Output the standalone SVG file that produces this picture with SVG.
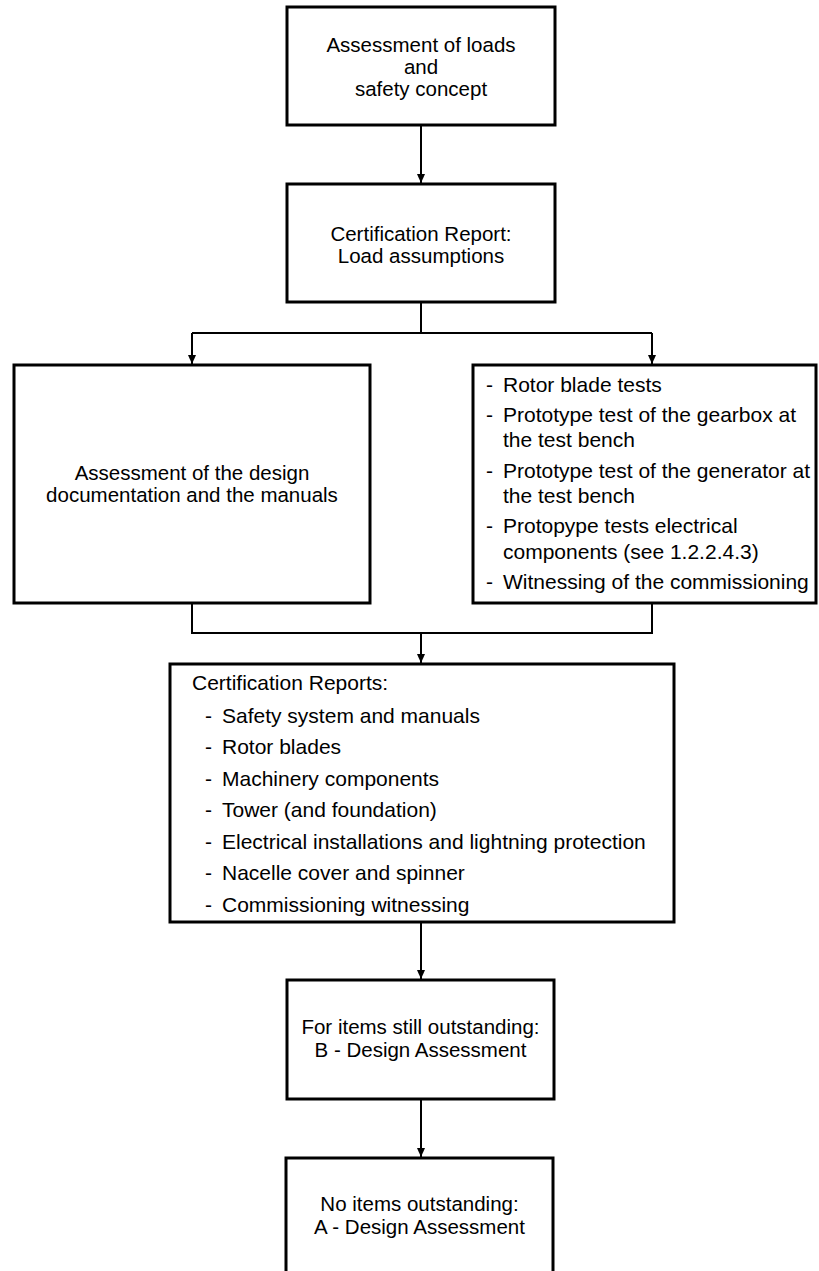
<svg xmlns="http://www.w3.org/2000/svg" width="819" height="1271" viewBox="0 0 819 1271">
  <style>
    .box { fill: #fff; stroke: #000; stroke-width: 3; }
    .wire { fill: none; stroke: #000; stroke-width: 2; }
    text { font-family: "Liberation Sans", Arial, sans-serif; font-size: 20.5px; fill: #000; }
    .c { text-anchor: middle; }
    .li { font-size: 21px; }
  </style>
  <defs>
    <marker id="arrow" markerUnits="userSpaceOnUse" markerWidth="10" markerHeight="10" refX="9" refY="4" orient="auto">
      <path d="M0,0 L9,4 L0,8 Z" fill="#000"/>
    </marker>
  </defs>

  <!-- connectors -->
  <g id="connectors">
    <path class="wire" d="M421,125 V183" marker-end="url(#arrow)"/>
    <path class="wire" d="M421,302 V333"/>
    <path class="wire" d="M192,333 H652"/>
    <path class="wire" d="M192,333 V364" marker-end="url(#arrow)"/>
    <path class="wire" d="M652,333 V364" marker-end="url(#arrow)"/>
    <path class="wire" d="M192,603 V633 H652 V603"/>
    <path class="wire" d="M421,633 V663" marker-end="url(#arrow)"/>
    <path class="wire" d="M421,922 V979" marker-end="url(#arrow)"/>
    <path class="wire" d="M421,1099 V1157" marker-end="url(#arrow)"/>
  </g>

  <!-- loads and safety concept -->
  <g id="node-loads">
    <rect class="box" x="287" y="7" width="268" height="118"/>
    <text class="c" x="421" y="52">Assessment of loads</text>
    <text class="c" x="421" y="74">and</text>
    <text class="c" x="421" y="96">safety concept</text>
  </g>

  <!-- load assumptions report -->
  <g id="node-load-report">
    <rect class="box" x="287" y="184" width="268" height="118"/>
    <text class="c" x="421" y="241">Certification Report:</text>
    <text class="c" x="421" y="263">Load assumptions</text>
  </g>

  <!-- design documentation -->
  <g id="node-design-doc">
    <rect class="box" x="14" y="365" width="356" height="238"/>
    <text class="c" x="192" y="480">Assessment of the design</text>
    <text class="c" x="192" y="502">documentation and the manuals</text>
  </g>

  <!-- tests -->
  <g id="node-tests" class="li">
    <rect class="box" x="473" y="365" width="343" height="238"/>
    <text class="li" x="486" y="392">-</text><text class="li" x="503" y="392">Rotor blade tests</text>
    <text class="li" x="486" y="422">-</text><text class="li" x="503" y="422">Prototype test of the gearbox at</text>
    <text class="li" x="503" y="447">the test bench</text>
    <text class="li" x="486" y="478">-</text><text class="li" x="503" y="478">Prototype test of the generator at</text>
    <text class="li" x="503" y="503">the test bench</text>
    <text class="li" x="486" y="533">-</text><text class="li" x="503" y="533">Protopype tests electrical</text>
    <text class="li" x="503" y="559">components (see 1.2.2.4.3)</text>
    <text class="li" x="486" y="589">-</text><text class="li" x="503" y="589">Witnessing of the commissioning</text>
  </g>

  <!-- certification reports -->
  <g id="node-reports">
    <rect class="box" x="170" y="664" width="504" height="258"/>
    <text class="li" x="192" y="690">Certification Reports:</text>
    <text class="li" x="205" y="723">-</text><text class="li" x="222" y="723">Safety system and manuals</text>
    <text class="li" x="205" y="754">-</text><text class="li" x="222" y="754">Rotor blades</text>
    <text class="li" x="205" y="786">-</text><text class="li" x="222" y="786">Machinery components</text>
    <text class="li" x="205" y="817">-</text><text class="li" x="222" y="817">Tower (and foundation)</text>
    <text class="li" x="205" y="849">-</text><text class="li" x="222" y="849">Electrical installations and lightning protection</text>
    <text class="li" x="205" y="880">-</text><text class="li" x="222" y="880">Nacelle cover and spinner</text>
    <text class="li" x="205" y="912">-</text><text class="li" x="222" y="912">Commissioning witnessing</text>
  </g>

  <!-- B design assessment -->
  <g id="node-b">
    <rect class="box" x="287" y="980" width="267" height="119"/>
    <text class="c" x="420.5" y="1034">For items still outstanding:</text>
    <text class="c" x="420.5" y="1057">B - Design Assessment</text>
  </g>

  <!-- A design assessment -->
  <g id="node-a">
    <rect class="box" x="286" y="1158" width="267" height="119"/>
    <text class="c" x="419.5" y="1211">No items outstanding:</text>
    <text class="c" x="419.5" y="1234">A - Design Assessment</text>
  </g>
</svg>
